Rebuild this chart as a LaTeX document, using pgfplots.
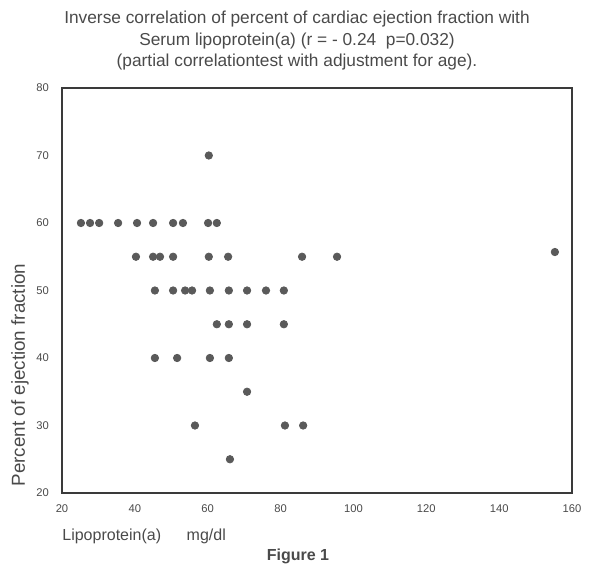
\documentclass[border=0pt]{standalone}
\usepackage{pgfplots}
\pgfplotsset{compat=1.18}
\usepackage{fontspec}
\setmainfont{Liberation Sans}
\definecolor{txt}{HTML}{4A4A4A}
\definecolor{ax}{HTML}{3A3A3A}
\definecolor{dot}{HTML}{5A5A5A}
\begin{document}
\begin{tikzpicture}
\useasboundingbox (-31pt,-36.5pt) rectangle (265pt,246.5pt);
\begin{axis}[
  at={(0pt,0pt)}, anchor=south west,
  scale only axis, width=255pt, height=202.5pt,
  xmin=20, xmax=160, ymin=20, ymax=80,
  xtick={20,40,...,160}, ytick={20,30,...,80},
  major tick length=0pt,
  axis line style={ax, line width=1.4pt},
  tick label style={txt, font=\fontsize{5.6}{6}\selectfont},
  /pgf/number format/assume math mode=true,
  xticklabel style={yshift=-2.5pt},
  yticklabel style={xshift=-3pt},
  clip=false,
]
\addplot[only marks, mark=*, mark size=1.85pt, color=dot] coordinates {
(60.3,70)
(25.2,60) (27.7,60) (30.2,60) (35.4,60) (40.6,60) (45.0,60) (50.5,60) (53.2,60) (60.1,60) (62.5,60)
(40.3,55) (45,55) (46.9,55) (50.5,55) (60.3,55) (65.6,55) (85.9,55) (95.5,55) (155.3,55.7)
(45.5,50) (50.5,50) (53.8,50) (55.7,50) (60.6,50) (65.8,50) (70.8,50) (76,50) (80.9,50)
(62.5,45) (65.8,45) (70.8,45) (80.9,45)
(45.5,40) (51.6,40) (60.6,40) (65.8,40)
(70.8,35)
(56.5,30) (81.2,30) (86.2,30)
(66.1,25)
};
\end{axis}
\begin{scope}[txt]
\node[font=\fontsize{8.65}{10}\selectfont, anchor=base] at (117.5pt,234.5pt) {Inverse correlation of percent of cardiac ejection fraction with};
\node[font=\fontsize{8.65}{10}\selectfont, anchor=base] at (117.5pt,223.5pt) {Serum lipoprotein(a) (r = - 0.24\ \ p=0.032)};
\node[font=\fontsize{8.65}{10}\selectfont, anchor=base] at (117.5pt,213pt) {(partial correlationtest with adjustment for age).};
\node[font=\fontsize{8}{10}\selectfont, anchor=base west, inner sep=0pt] at (0pt,-23.5pt) {Lipoprotein(a)\hspace{1.6em}mg/dl};
\node[font=\bfseries\fontsize{8}{10}\selectfont, anchor=base, inner sep=0pt] at (118pt,-33.5pt) {Figure 1};
\node[font=\fontsize{9.4}{10}\selectfont, rotate=90, anchor=center, inner sep=0pt] at (-21pt,59pt) {Percent of ejection fraction};
\end{scope}
\end{tikzpicture}
\end{document}
